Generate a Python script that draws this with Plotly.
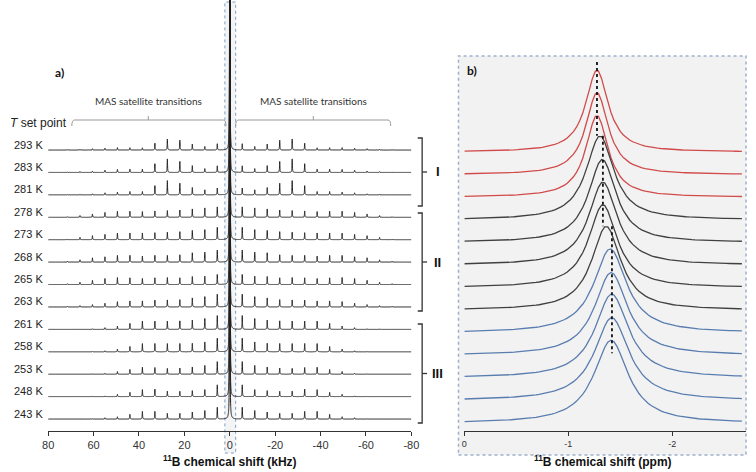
import numpy as np
import plotly.graph_objects as go

W, H = 756, 472

# ---------------- data ----------------
temps = ["293 K", "283 K", "281 K", "278 K", "273 K", "268 K", "265 K",
         "263 K", "261 K", "258 K", "253 K", "248 K", "243 K"]
sideband_order = list(range(1, 14))
spin_rate_khz = 5.5
# spinning-sideband heights (n = 1..13) for each temperature
sb_heights = [
    [6.2, 3.5, 6.0, 9.8, 11.0, 6.8, 2.2, 2.3, 2.4, 1.8, 1.3, 0.7, 0.3],
    [6.5, 3.8, 6.8, 11.0, 13.5, 8.7, 3.3, 3.3, 3.0, 2.2, 1.3, 0.8, 0.4],
    [6.7, 5.0, 7.3, 11.7, 14.2, 9.2, 3.3, 3.3, 2.7, 2.0, 1.0, 0.6, 0.3],
    [10.3, 9.3, 8.3, 7.2, 6.7, 6.3, 5.7, 6.0, 6.0, 4.8, 3.3, 1.7, 0.4],
    [12.3, 10.0, 9.3, 8.0, 7.5, 7.0, 6.7, 6.7, 6.5, 5.3, 4.0, 2.3, 0.5],
    [12.0, 10.0, 9.3, 7.3, 6.7, 6.8, 6.0, 6.8, 6.7, 5.3, 4.3, 2.3, 0.8],
    [10.0, 8.3, 8.0, 6.7, 7.0, 6.7, 6.0, 6.7, 7.0, 6.0, 4.2, 2.3, 0.8],
    [12.7, 10.3, 9.0, 7.3, 7.0, 6.8, 6.0, 6.0, 5.3, 3.7, 2.3, 1.3, 0.7],
    [13.7, 10.8, 9.3, 8.5, 8.3, 8.3, 8.3, 6.0, 3.3, 1.7, 0.5, 0.2, 0.0],
    [13.5, 9.8, 8.5, 8.3, 8.2, 8.3, 8.2, 5.3, 2.7, 1.0, 0.3, 0.0, 0.0],
    [12.5, 8.8, 7.2, 6.2, 5.8, 6.7, 7.0, 4.7, 2.7, 0.8, 0.3, 0.0, 0.0],
    [11.7, 7.0, 6.0, 5.3, 5.5, 7.5, 7.0, 4.3, 2.3, 0.7, 0.3, 0.0, 0.0],
    [11.7, 8.5, 7.0, 5.7, 5.7, 7.7, 7.7, 4.7, 2.3, 1.3, 0.3, 0.0, 0.0],
]
central_height = 900

# panel b: central transition
shift_ppm = [-1.276, -1.276, -1.276, -1.305, -1.327, -1.333, -1.333,
             -1.365, -1.403, -1.412, -1.418, -1.418, -1.412]
hwhm_ppm = [0.13, 0.13, 0.13, 0.16, 0.16, 0.165, 0.165,
            0.17, 0.19, 0.19, 0.195, 0.2, 0.2]
peak_height_b = [82, 82, 82, 84, 83, 83, 83, 84, 84, 83, 84, 83, 83]
regime = ["I", "I", "I", "II", "II", "II", "II", "II",
          "III", "III", "III", "III", "III"]
guide_ppm = [-1.276, -1.333, -1.42]
guide_first = [0, 3, 7]
guide_last = [3, 7, 12]

khz_ticks = [80, 60, 40, 20, 0, -20, -40, -60, -80]
ppm_ticks = [0, -1, -2]
group_labels = ["I", "II", "III"]

# ---------------- styling / layout helpers ----------------
regime_color = {"I": "#d24b4b", "II": "#404040", "III": "#5a7db0"}
AX = 431  # axis-line pixel row


def px(x):
    return x / W


def py(y):
    return 1 - y / H


def lorentz(x, x0, g):
    return 1.0 / (1.0 + ((x - x0) / g) ** 2)


fig = go.Figure()

# panel a
x_khz = np.round(np.arange(-80, 80.0001, 0.02), 3)
for i, t in enumerate(temps):
    base = AX - (150 + 22.42 * i)
    y = np.full_like(x_khz, base, dtype=float)
    y += central_height * lorentz(x_khz, 0.0, 0.05)
    for n, h in zip(sideband_order, sb_heights[i]):
        for s in (1, -1):
            y += h * lorentz(x_khz, s * n * spin_rate_khz, 0.1)
    fig.add_trace(go.Scatter(x=x_khz, y=y, mode="lines",
                             line=dict(color="#222222", width=1, simplify=False),
                             xaxis="x", yaxis="y", hoverinfo="skip",
                             showlegend=False))

# panel b
x_ppm = np.round(np.arange(0, -2.6901, -0.03), 3)
base_b = [AX - (152 + 22.6 * i) for i in range(len(temps))]
apex_b = [base_b[i] + peak_height_b[i] for i in range(len(temps))]
for i in range(len(temps)):
    y = base_b[i] + peak_height_b[i] * lorentz(x_ppm, shift_ppm[i], hwhm_ppm[i])
    fig.add_trace(go.Scatter(x=x_ppm, y=y, mode="lines",
                             line=dict(color=regime_color[regime[i]], width=1.3),
                             xaxis="x2", yaxis="y2", hoverinfo="skip",
                             showlegend=False))

for k, g in enumerate(guide_ppm):
    top = apex_b[guide_first[k]] + (8 if k == 0 else 0)
    bot = apex_b[guide_last[k]] - (13 if k == len(guide_ppm) - 1 else 0)
    fig.add_trace(go.Scatter(x=[g, g], y=[top, bot], mode="lines",
                             line=dict(color="#111111", width=1.8, dash="dot"),
                             xaxis="x2", yaxis="y2", hoverinfo="skip",
                             showlegend=False))

shapes = []
# panel b frame
shapes.append(dict(type="rect", xref="paper", yref="paper",
                   x0=px(461), x1=px(754), y0=py(455), y1=py(56),
                   fillcolor="#f2f2f2", line=dict(color="#9db0cc", width=1.5, dash="dot"),
                   layer="below"))
# center highlight box in panel a
shapes.append(dict(type="rect", xref="paper", yref="paper",
                   x0=px(223), x1=px(234), y0=py(453), y1=py(2),
                   fillcolor="#f4f4f4", line=dict(color="#7d9bc7", width=1, dash="dot"),
                   layer="below"))
# top brackets (MAS satellite transitions)
for (xa, xb, xm) in [(69.6, 1.7, 35.9), (-2.6, -70.9, -36.8)]:
    yb = AX - 120
    sg = np.sign(xa - xb)
    shapes.append(dict(type="path", xref="x", yref="y",
                       path=f"M {xa},{yb-6} Q {xa},{yb} {xa - sg*1.2},{yb} "
                            f"L {xb + sg*1.2},{yb} Q {xb},{yb} {xb},{yb-6}",
                       line=dict(color="#999999", width=1)))
    shapes.append(dict(type="line", xref="x", yref="y", x0=xm, x1=xm, y0=yb, y1=yb + 4,
                       line=dict(color="#999999", width=1)))
# right brackets I / II / III
bracket_spans = [(138, 206), (213, 311), (324, 423)]
for (t0, t1) in bracket_spans:
    m = (t0 + t1) / 2
    shapes.append(dict(type="path", xref="paper", yref="paper",
                       path=f"M {px(419.5)},{py(t0)} L {px(424)},{py(t0)} L {px(424)},{py(t1)} L {px(419.5)},{py(t1)}",
                       line=dict(color="#333333", width=1.3)))
    shapes.append(dict(type="line", xref="paper", yref="paper",
                       x0=px(424), x1=px(429), y0=py(m), y1=py(m),
                       line=dict(color="#333333", width=1.3)))

ann = []
for i, t in enumerate(temps):
    ann.append(dict(text=t, xref="paper", yref="paper", x=px(40), y=py(150 + 22.42 * i - 5.5),
                    xanchor="right", yanchor="middle", showarrow=False,
                    font=dict(family="Liberation Sans, Arial", size=11, color="#222222")))
ann.append(dict(text="<i>T</i> set point", xref="paper", yref="paper", x=px(2), y=py(123),
                xanchor="left", yanchor="middle", showarrow=False,
                font=dict(family="Liberation Sans, Arial", size=12, color="#222222")))
for xc in (145, 313):
    ann.append(dict(text="MAS satellite transitions", xref="paper", yref="paper",
                    x=px(xc), y=py(101), xanchor="center", yanchor="middle", showarrow=False,
                    font=dict(family="Lato", size=10, color="#333333")))
ann.append(dict(text="<b>a)</b>", xref="paper", yref="paper", x=px(48), y=py(72),
                xanchor="left", yanchor="middle", showarrow=False,
                font=dict(family="Lato", size=12, color="#111111")))
ann.append(dict(text="<b>b)</b>", xref="paper", yref="paper", x=px(468), y=py(71),
                xanchor="left", yanchor="middle", showarrow=False,
                font=dict(family="Lato", size=12, color="#111111")))
for lab, (t0, t1) in zip(group_labels, bracket_spans):
    ann.append(dict(text=f"<b>{lab}</b>", xref="paper", yref="paper", x=px(440),
                    y=py((t0 + t1) / 2), xanchor="center", yanchor="middle", showarrow=False,
                    font=dict(family="Liberation Sans, Arial", size=13, color="#111111")))
ann.append(dict(text="<b><sup>11</sup>B chemical shift (kHz)</b>", xref="paper", yref="paper",
                x=px(228), y=py(461), xanchor="center", yanchor="middle", showarrow=False,
                font=dict(family="Liberation Sans, Arial", size=12, color="#111111")))
ann.append(dict(text="<b><sup>11</sup>B chemical shift (ppm)</b>", xref="paper", yref="paper",
                x=px(608), y=py(461), xanchor="center", yanchor="middle", showarrow=False,
                font=dict(family="Liberation Sans, Arial", size=12, color="#111111")))

fig.update_layout(
    width=W, height=H, margin=dict(l=0, r=0, t=0, b=0),
    paper_bgcolor="white", plot_bgcolor="rgba(0,0,0,0)", showlegend=False,
    xaxis=dict(domain=[px(43), px(413)], range=[80, -80], anchor="y",
               tickmode="array", tickvals=khz_ticks, ticktext=[str(v) for v in khz_ticks],
               showline=True, linecolor="#333333", linewidth=1, ticks="outside",
               ticklen=4, tickcolor="#333333", showgrid=False, zeroline=False,
               tickfont=dict(family="Liberation Sans, Arial", size=11, color="#333333")),
    yaxis=dict(domain=[py(AX), 1], range=[0, AX], visible=False, anchor="x"),
    xaxis2=dict(domain=[px(467), px(754)], range=[0, -2.71], anchor="y2",
                tickmode="array", tickvals=ppm_ticks, ticktext=[str(v) for v in ppm_ticks],
                showline=True, linecolor="#333333", linewidth=1, ticks="outside",
                ticklen=4, tickcolor="#333333", showgrid=False, zeroline=False,
                tickfont=dict(family="Liberation Sans, Arial", size=9, color="#333333")),
    yaxis2=dict(domain=[py(AX), 1], range=[0, AX], visible=False, anchor="x2"),
    shapes=shapes, annotations=ann,
)

fig.write_html("out.html", config={"displayModeBar": False},
               post_script="document.body.style.margin='0';document.body.style.overflow='hidden';")
